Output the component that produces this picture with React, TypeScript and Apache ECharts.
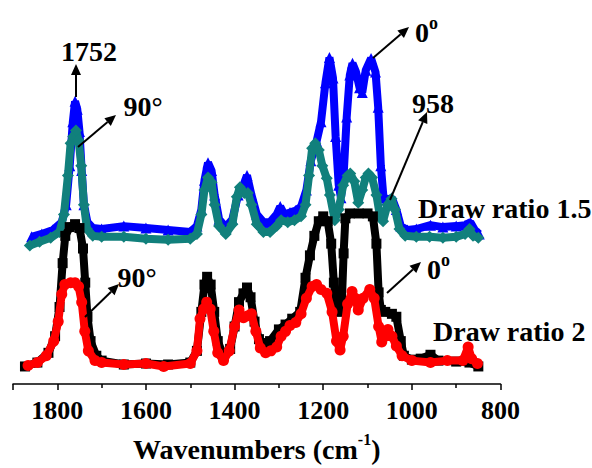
import { useEffect, useRef } from "react";
import * as echarts from "echarts";

// x: wavenumber (cm-1), y: absorbance (a.u., stacked offsets)
const xTickLabels = [1800, 1600, 1400, 1200, 1000, 800];

const dr15_0: [number, number][] = [
  [1858, 151], [1835, 154], [1810, 158], [1790, 166], [1780, 184], [1772, 224], [1765, 269], [1760, 290],
  [1755, 282], [1750, 259], [1745, 219], [1740, 184], [1732, 166], [1720, 160], [1700, 159], [1650, 162],
  [1600, 160], [1550, 158], [1500, 156], [1485, 162], [1475, 179], [1468, 209], [1460, 227], [1452, 219],
  [1445, 194], [1435, 169], [1420, 161], [1405, 169], [1392, 194], [1380, 204], [1372, 214], [1362, 194],
  [1350, 174], [1335, 166], [1320, 166], [1305, 174], [1297, 182], [1288, 174], [1275, 176], [1262, 178],
  [1250, 182], [1238, 199], [1228, 229], [1215, 249], [1205, 269], [1195, 309], [1186, 335], [1178, 314],
  [1172, 254], [1165, 204], [1160, 191], [1154, 214], [1147, 274], [1140, 317], [1134, 329], [1126, 320],
  [1118, 304], [1112, 299], [1104, 322], [1092, 334], [1082, 320], [1076, 284], [1070, 224], [1064, 191],
  [1056, 189], [1045, 191], [1035, 179], [1025, 162], [1010, 158], [990, 159], [958, 163], [930, 161],
  [900, 162], [880, 163], [868, 166], [858, 158], [848, 154],
];

const dr15_90: [number, number][] = [
  [1862, 142], [1840, 146], [1815, 150], [1795, 156], [1785, 174], [1776, 214], [1770, 247], [1764, 254],
  [1758, 260], [1752, 250], [1746, 224], [1740, 184], [1733, 159], [1720, 152], [1700, 151], [1650, 151],
  [1600, 149], [1550, 148], [1500, 149], [1485, 154], [1475, 174], [1468, 199], [1460, 212], [1452, 207],
  [1445, 184], [1435, 162], [1420, 154], [1405, 164], [1395, 192], [1388, 202], [1378, 196], [1370, 196],
  [1362, 184], [1350, 164], [1335, 156], [1320, 156], [1305, 162], [1295, 168], [1280, 166], [1265, 168],
  [1250, 172], [1240, 184], [1232, 214], [1225, 242], [1218, 247], [1210, 240], [1202, 224], [1192, 211],
  [1185, 194], [1174, 168], [1165, 179], [1155, 204], [1145, 214], [1139, 216], [1130, 208], [1121, 186],
  [1112, 199], [1104, 212], [1098, 216], [1090, 212], [1080, 194], [1072, 172], [1065, 167], [1055, 184],
  [1046, 190], [1038, 179], [1028, 159], [1015, 152], [990, 151], [960, 151], [930, 150], [900, 151],
  [880, 154], [870, 159], [862, 152], [850, 150],
];

const dr2_0: [number, number][] = [
  [1873, 18], [1845, 22], [1820, 32], [1805, 49], [1795, 79], [1788, 124], [1782, 152], [1772, 161],
  [1760, 164], [1750, 160], [1742, 139], [1737, 104], [1732, 69], [1725, 44], [1712, 29], [1700, 24],
  [1650, 20], [1600, 21], [1550, 20], [1500, 22], [1485, 34], [1475, 74], [1468, 102], [1462, 110],
  [1454, 102], [1446, 74], [1438, 44], [1425, 29], [1410, 36], [1400, 59], [1390, 84], [1380, 93],
  [1372, 99], [1364, 89], [1355, 64], [1345, 46], [1335, 42], [1320, 44], [1300, 56], [1285, 61],
  [1270, 67], [1252, 74], [1240, 109], [1230, 132], [1220, 152], [1210, 167], [1200, 172], [1190, 167],
  [1182, 144], [1176, 104], [1170, 79], [1164, 74], [1158, 84], [1154, 134], [1150, 170], [1140, 175],
  [1120, 175], [1100, 175], [1088, 172], [1080, 144], [1075, 94], [1070, 76], [1060, 74], [1045, 72],
  [1035, 69], [1025, 44], [1018, 29], [1000, 25], [980, 26], [958, 30], [940, 24], [900, 23],
  [870, 22], [850, 18],
];

const dr2_90: [number, number][] = [
  [1866, 19], [1845, 22], [1825, 29], [1808, 44], [1798, 64], [1790, 92], [1783, 102], [1770, 104],
  [1760, 104], [1752, 100], [1745, 84], [1738, 54], [1730, 34], [1715, 24], [1700, 22], [1650, 20],
  [1600, 21], [1560, 18], [1500, 21], [1485, 34], [1478, 67], [1470, 77], [1463, 84], [1455, 77],
  [1447, 54], [1438, 32], [1425, 24], [1412, 34], [1400, 59], [1390, 76], [1380, 68], [1370, 70],
  [1362, 72], [1352, 54], [1342, 37], [1330, 32], [1318, 34], [1305, 38], [1295, 49], [1285, 54],
  [1275, 60], [1262, 63], [1250, 72], [1238, 88], [1225, 100], [1215, 102], [1205, 97], [1192, 93],
  [1180, 74], [1170, 44], [1162, 35], [1155, 49], [1145, 82], [1135, 95], [1128, 88], [1121, 76],
  [1110, 88], [1095, 97], [1085, 88], [1075, 59], [1068, 43], [1060, 49], [1054, 56], [1045, 49],
  [1035, 39], [1022, 29], [1000, 24], [958, 22], [920, 24], [885, 24], [873, 38], [865, 26],
  [852, 21],
];

const FONT = "'Times New Roman', 'Liberation Serif', serif";

function arrow(x1: number, y1: number, x2: number, y2: number) {
  const dx = x2 - x1;
  const dy = y2 - y1;
  const len = Math.hypot(dx, dy);
  const ux = dx / len;
  const uy = dy / len;
  const hl = 11;
  const hw = 5;
  const bx = x2 - ux * hl;
  const by = y2 - uy * hl;
  return [
    { type: "line", shape: { x1, y1, x2: bx, y2: by }, style: { stroke: "#000", lineWidth: 2 }, z: 100 },
    {
      type: "polygon",
      shape: { points: [[x2, y2], [bx - uy * hw, by + ux * hw], [bx + uy * hw, by - ux * hw]] },
      style: { fill: "#000" },
      z: 100,
    },
  ];
}

function label(text: string, x: number, y: number, align: string = "center") {
  return {
    type: "text",
    x,
    y,
    z: 100,
    style: {
      text,
      fill: "#000",
      fontSize: 28,
      fontWeight: "bold",
      fontFamily: FONT,
      align,
      verticalAlign: "middle",
    },
  };
}

function degLabel(x: number, y: number) {
  return {
    type: "text",
    x,
    y,
    z: 100,
    style: {
      text: "{a|0}{b|o}",
      fill: "#000",
      align: "left",
      verticalAlign: "middle",
      rich: {
        a: { fontSize: 28, fontWeight: "bold", fontFamily: FONT, fill: "#000", lineHeight: 32, verticalAlign: "bottom" },
        b: { fontSize: 18, fontWeight: "bold", fontFamily: FONT, fill: "#000", lineHeight: 18, verticalAlign: "top" },
      },
    },
  };
}

function lineSeries(name: string, data: [number, number][], color: string, symbol: string, size: number, z: number) {
  return {
    name,
    type: "line",
    data,
    symbol,
    symbolSize: size,
    showSymbol: true,
    showAllSymbol: true,
    lineStyle: { width: 8, color },
    itemStyle: { color, borderWidth: 0 },
    z,
  };
}

export default function App() {
  const ref = useRef<HTMLDivElement>(null);
  useEffect(() => {
    document.body.style.margin = "0";
    if (!ref.current) return;
    const chart = echarts.init(ref.current, null, { renderer: "svg" });
    chart.setOption({
      animation: false,
      backgroundColor: "#fff",
      grid: { left: 13, right: 91.5, top: 0, bottom: 74 },
      xAxis: {
        type: "value",
        min: 800,
        max: 1900,
        interval: 200,
        inverse: true,
        splitLine: { show: false },
        axisLine: { show: true, lineStyle: { color: "#000", width: 1.5 } },
        axisTick: { show: true, length: 6, lineStyle: { color: "#000", width: 1.5 } },
        minorTick: { show: true, splitNumber: 2, length: 4, lineStyle: { color: "#000", width: 1.5 } },
        axisLabel: {
          color: "#000",
          fontSize: 26,
          fontWeight: "bold",
          fontFamily: FONT,
          margin: 13,
          showMaxLabel: false,
          formatter: (v: number) => (xTickLabels.includes(v) ? String(v) : ""),
        },
        name: "{t|Wavenumbers (cm}{s|-1}{t|)}",
        nameLocation: "middle",
        nameGap: 47,
        nameTextStyle: {
          rich: {
            t: { fontSize: 28, fontWeight: "bold", fontFamily: FONT, color: "#000", lineHeight: 32, verticalAlign: "bottom" },
            s: { fontSize: 16, fontWeight: "bold", fontFamily: FONT, color: "#000", lineHeight: 16, verticalAlign: "top" },
          },
        },
      },
      yAxis: { type: "value", min: 0, max: 394, show: false },
      series: [
        lineSeries("Draw ratio 1.5, 0°", dr15_0, "#0000ff", "triangle", 11, 2),
        lineSeries("Draw ratio 1.5, 90°", dr15_90, "#11807c", "diamond", 12, 3),
        lineSeries("Draw ratio 2, 0°", dr2_0, "#000000", "rect", 10, 4),
        lineSeries("Draw ratio 2, 90°", dr2_90, "#ff0000", "circle", 11, 5),
      ],
      graphic: [
        ...arrow(76, 97, 76, 64),
        label("1752", 89, 51),
        ...arrow(78, 147, 116, 115),
        label("90°", 143, 106),
        ...arrow(373, 58, 409, 27),
        degLabel(415, 30),
        ...arrow(390, 200, 427, 112),
        label("958", 433, 103),
        label("Draw ratio 1.5", 418, 208, "left"),
        ...arrow(85, 317, 119, 284),
        label("90°", 137, 277),
        ...arrow(387, 293, 421, 262),
        degLabel(427, 267),
        label("Draw ratio 2", 433, 331, "left"),
      ],
    });
    return () => chart.dispose();
  }, []);
  return <div ref={ref} style={{ width: 592, height: 468 }} />;
}
